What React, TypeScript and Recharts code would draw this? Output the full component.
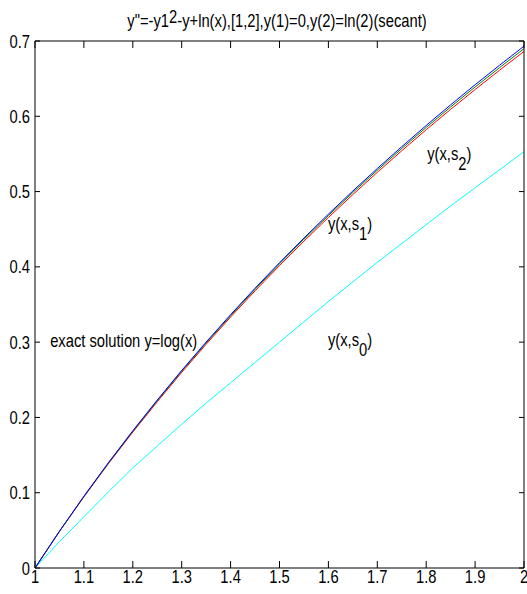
import React from "react";
import { LineChart, Line, XAxis, YAxis, ReferenceDot } from "recharts";

// x grid of the solver output
const xValues = [
  1, 1.05, 1.1, 1.15, 1.2, 1.25, 1.3, 1.35, 1.4, 1.45, 1.5, 1.55, 1.6, 1.65,
  1.7, 1.75, 1.8, 1.85, 1.9, 1.95, 2,
];

// y(x,s0), first shot (cyan)
const s0Values = [
  0, 0.035, 0.068, 0.101, 0.133, 0.162, 0.191, 0.219, 0.246, 0.273, 0.3,
  0.327, 0.354, 0.38, 0.406, 0.431, 0.456, 0.481, 0.505, 0.529, 0.553,
];

// y(x,s1) (red)
const s1Values = [
  0, 0.0485, 0.0945, 0.1385, 0.1805, 0.2208, 0.2598, 0.2972, 0.3333, 0.3681,
  0.4017, 0.4342, 0.4656, 0.496, 0.5255, 0.5542, 0.5821, 0.6092, 0.6355,
  0.6612, 0.6862,
];

// y(x,s2) (green)
const s2Values = [
  0, 0.0487, 0.095, 0.1393, 0.1816, 0.2222, 0.2614, 0.299, 0.3352, 0.3702,
  0.404, 0.4367, 0.4682, 0.4988, 0.5284, 0.5572, 0.5852, 0.6124, 0.6389,
  0.6646, 0.6898,
];

// exact solution y = log(x) (blue)
const exactValues = [
  0, 0.0488, 0.0953, 0.1398, 0.1823, 0.2231, 0.2624, 0.3001, 0.3365, 0.3716,
  0.4055, 0.4383, 0.47, 0.5008, 0.5306, 0.5596, 0.5878, 0.6152, 0.6419,
  0.6678, 0.6931,
];

const xTicks = [1, 1.1, 1.2, 1.3, 1.4, 1.5, 1.6, 1.7, 1.8, 1.9, 2];
const xTickLabels = ["1", "1.1", "1.2", "1.3", "1.4", "1.5", "1.6", "1.7", "1.8", "1.9", "2"];
const yTicks = [0, 0.1, 0.2, 0.3, 0.4, 0.5, 0.6, 0.7];
const yTickLabels = ["0", "0.1", "0.2", "0.3", "0.4", "0.5", "0.6", "0.7"];

const annotations = [
  { text: "exact solution y=log(x)", sub: "", x: 1.031, y: 0.2935 },
  { text: "y(x,s", sub: "0", x: 1.599, y: 0.295 },
  { text: "y(x,s", sub: "1", x: 1.599, y: 0.449 },
  { text: "y(x,s", sub: "2", x: 1.802, y: 0.542 },
];

const data = xValues.map((x, i) => ({
  x,
  s0: s0Values[i],
  s1: s1Values[i],
  s2: s2Values[i],
  exact: exactValues[i],
}));

const W = 527;
const H = 594;
const PLOT_TOP = 41;
const PLOT_BOTTOM = 568;
const PLOT_LEFT = 35;
const PLOT_RIGHT = 524;
const FONT = "'Liberation Sans', Arial, sans-serif";
const SQUEEZE = 0.82; // the original uses a narrow Helvetica

const Narrow = ({ x, y, anchor = "start", children }: any) => (
  <text
    transform={`translate(${x},${y}) scale(${SQUEEZE},1)`}
    textAnchor={anchor}
    fontFamily={FONT}
    fontSize={18}
    fill="#000"
  >
    {children}
  </text>
);

const XTick = ({ x, index }: any) => (
  <g>
    <line x1={x} x2={x} y1={PLOT_BOTTOM} y2={PLOT_BOTTOM - 7} stroke="#000" />
    <line x1={x} x2={x} y1={PLOT_TOP} y2={PLOT_TOP + 7} stroke="#000" />
    <Narrow x={x} y={583} anchor="middle">
      {xTickLabels[index]}
    </Narrow>
  </g>
);

const YTick = ({ y, index }: any) => (
  <g>
    <line x1={PLOT_LEFT} x2={PLOT_LEFT + 5} y1={y} y2={y} stroke="#000" />
    <line x1={PLOT_RIGHT} x2={PLOT_RIGHT - 5} y1={y} y2={y} stroke="#000" />
    <Narrow x={30} y={y + 6.5} anchor="end">
      {yTickLabels[index]}
    </Narrow>
  </g>
);

const AnnotationText = ({ cx, cy, text, sub }: any) => (
  <Narrow x={cx} y={cy}>
    <tspan>{text}</tspan>
    {sub && <tspan dy={10}>{sub}</tspan>}
    {sub && <tspan dy={-10}>)</tspan>}
  </Narrow>
);

const App = () => {
  return (
    <div style={{ position: "absolute", left: 0, top: 0, background: "#fff" }}>
      <LineChart
        width={W}
        height={H}
        data={data}
        margin={{ top: 0, right: 0, bottom: 0, left: 0 }}
      >
        <XAxis
          dataKey="x"
          type="number"
          domain={[1, 2]}
          ticks={xTicks}
          interval={0}
          height={H - PLOT_BOTTOM}
          tickLine={false}
          tick={<XTick />}
          axisLine={{ stroke: "#000" }}
        />
        <XAxis
          xAxisId="top"
          orientation="top"
          dataKey="x"
          type="number"
          domain={[1, 2]}
          height={PLOT_TOP}
          tick={false}
          tickLine={false}
          axisLine={{ stroke: "#000" }}
        />
        <YAxis
          type="number"
          domain={[0, 0.7]}
          ticks={yTicks}
          interval={0}
          width={PLOT_LEFT}
          tickLine={false}
          tick={<YTick />}
          axisLine={{ stroke: "#000" }}
        />
        <YAxis
          yAxisId="right"
          orientation="right"
          type="number"
          domain={[0, 0.7]}
          width={W - PLOT_RIGHT}
          tick={false}
          tickLine={false}
          axisLine={{ stroke: "#000" }}
        />

        <Line dataKey="s0" stroke="#00ffff" strokeWidth={1} dot={false} isAnimationActive={false} />
        <Line dataKey="s1" stroke="#ff0000" strokeWidth={1} dot={false} isAnimationActive={false} />
        <Line dataKey="s2" stroke="#008000" strokeWidth={1} dot={false} isAnimationActive={false} />
        <Line dataKey="exact" stroke="#0000ff" strokeWidth={1} dot={false} isAnimationActive={false} />

        {annotations.map((a) => (
          <ReferenceDot
            key={a.text + a.sub}
            x={a.x}
            y={a.y}
            r={0}
            ifOverflow="visible"
            shape={(p: any) => <AnnotationText cx={p.cx} cy={p.cy} text={a.text} sub={a.sub} />}
          />
        ))}

        <Narrow x={277} y={27} anchor="middle">
          <tspan>y"=-y1</tspan>
          <tspan dy={-4}>2</tspan>
          <tspan dy={4}>-y+ln(x),[1,2],y(1)=0,y(2)=ln(2)(secant)</tspan>
        </Narrow>
      </LineChart>
    </div>
  );
};

export default App;
